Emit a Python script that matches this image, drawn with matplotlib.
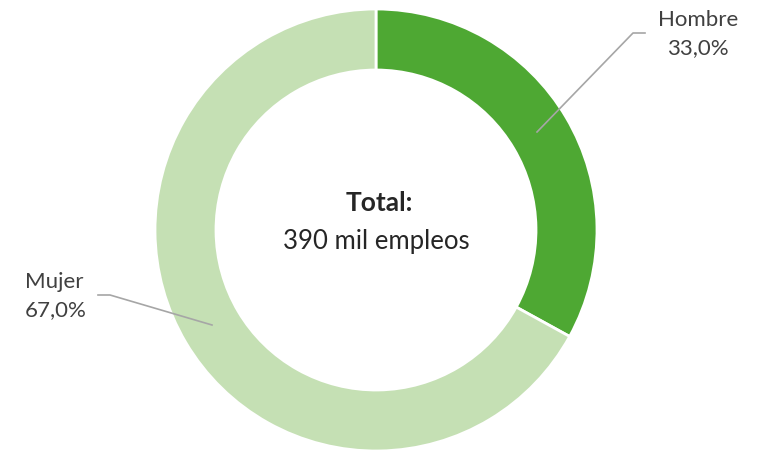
import matplotlib
matplotlib.use("Agg")
import matplotlib.pyplot as plt

# --- data ---
labels = ["Hombre", "Mujer"]
shares = [33.0, 67.0]
colors = ["#4EA833", "#C5E0B4"]
total_text = "390 mil empleos"

W, H = 767, 451
fig = plt.figure(figsize=(W / 100, H / 100), dpi=100)
ax = fig.add_axes([0, 0, 1, 1])

# pixel coords, y measured from the bottom
cx, cy = 376, H - 230
R, ring = 221, 61

ax.pie(shares, colors=colors, startangle=90, counterclock=False,
       center=(cx, cy), radius=R,
       wedgeprops=dict(width=ring, edgecolor="white", linewidth=2))
ax.set_xlim(0, W)
ax.set_ylim(0, H)
ax.set_aspect("equal")
ax.axis("off")

plt.rcParams["font.family"] = ["Lato", "DejaVu Sans"]
txt = "#404040"
line = "#A6A6A6"

# center label
ax.text(cx + 3, H - 203, "Total:", ha="center", va="center", fontsize=19,
        fontweight="bold", color="#262626")
ax.text(cx, H - 241, total_text, ha="center", va="center", fontsize=18.5,
        color="#262626")

# Hombre leader + label
ax.plot([537, 633, 645], [H - 132, H - 33, H - 33], color=line, lw=1.2)
ax.text(698, H - 20, labels[0], ha="center", va="center", fontsize=16, color=txt)
ax.text(698, H - 48, f"{shares[0]:.1f}%".replace(".", ","), ha="center",
        va="center", fontsize=16, color=txt)

# Mujer leader + label
ax.plot([98, 110, 212], [H - 295, H - 295, H - 325], color=line, lw=1.2)
ax.text(25, H - 282, labels[1], ha="left", va="center", fontsize=16, color=txt)
ax.text(25, H - 310, f"{shares[1]:.1f}%".replace(".", ","), ha="left",
        va="center", fontsize=16, color=txt)

fig.savefig("out.png", dpi=100)
